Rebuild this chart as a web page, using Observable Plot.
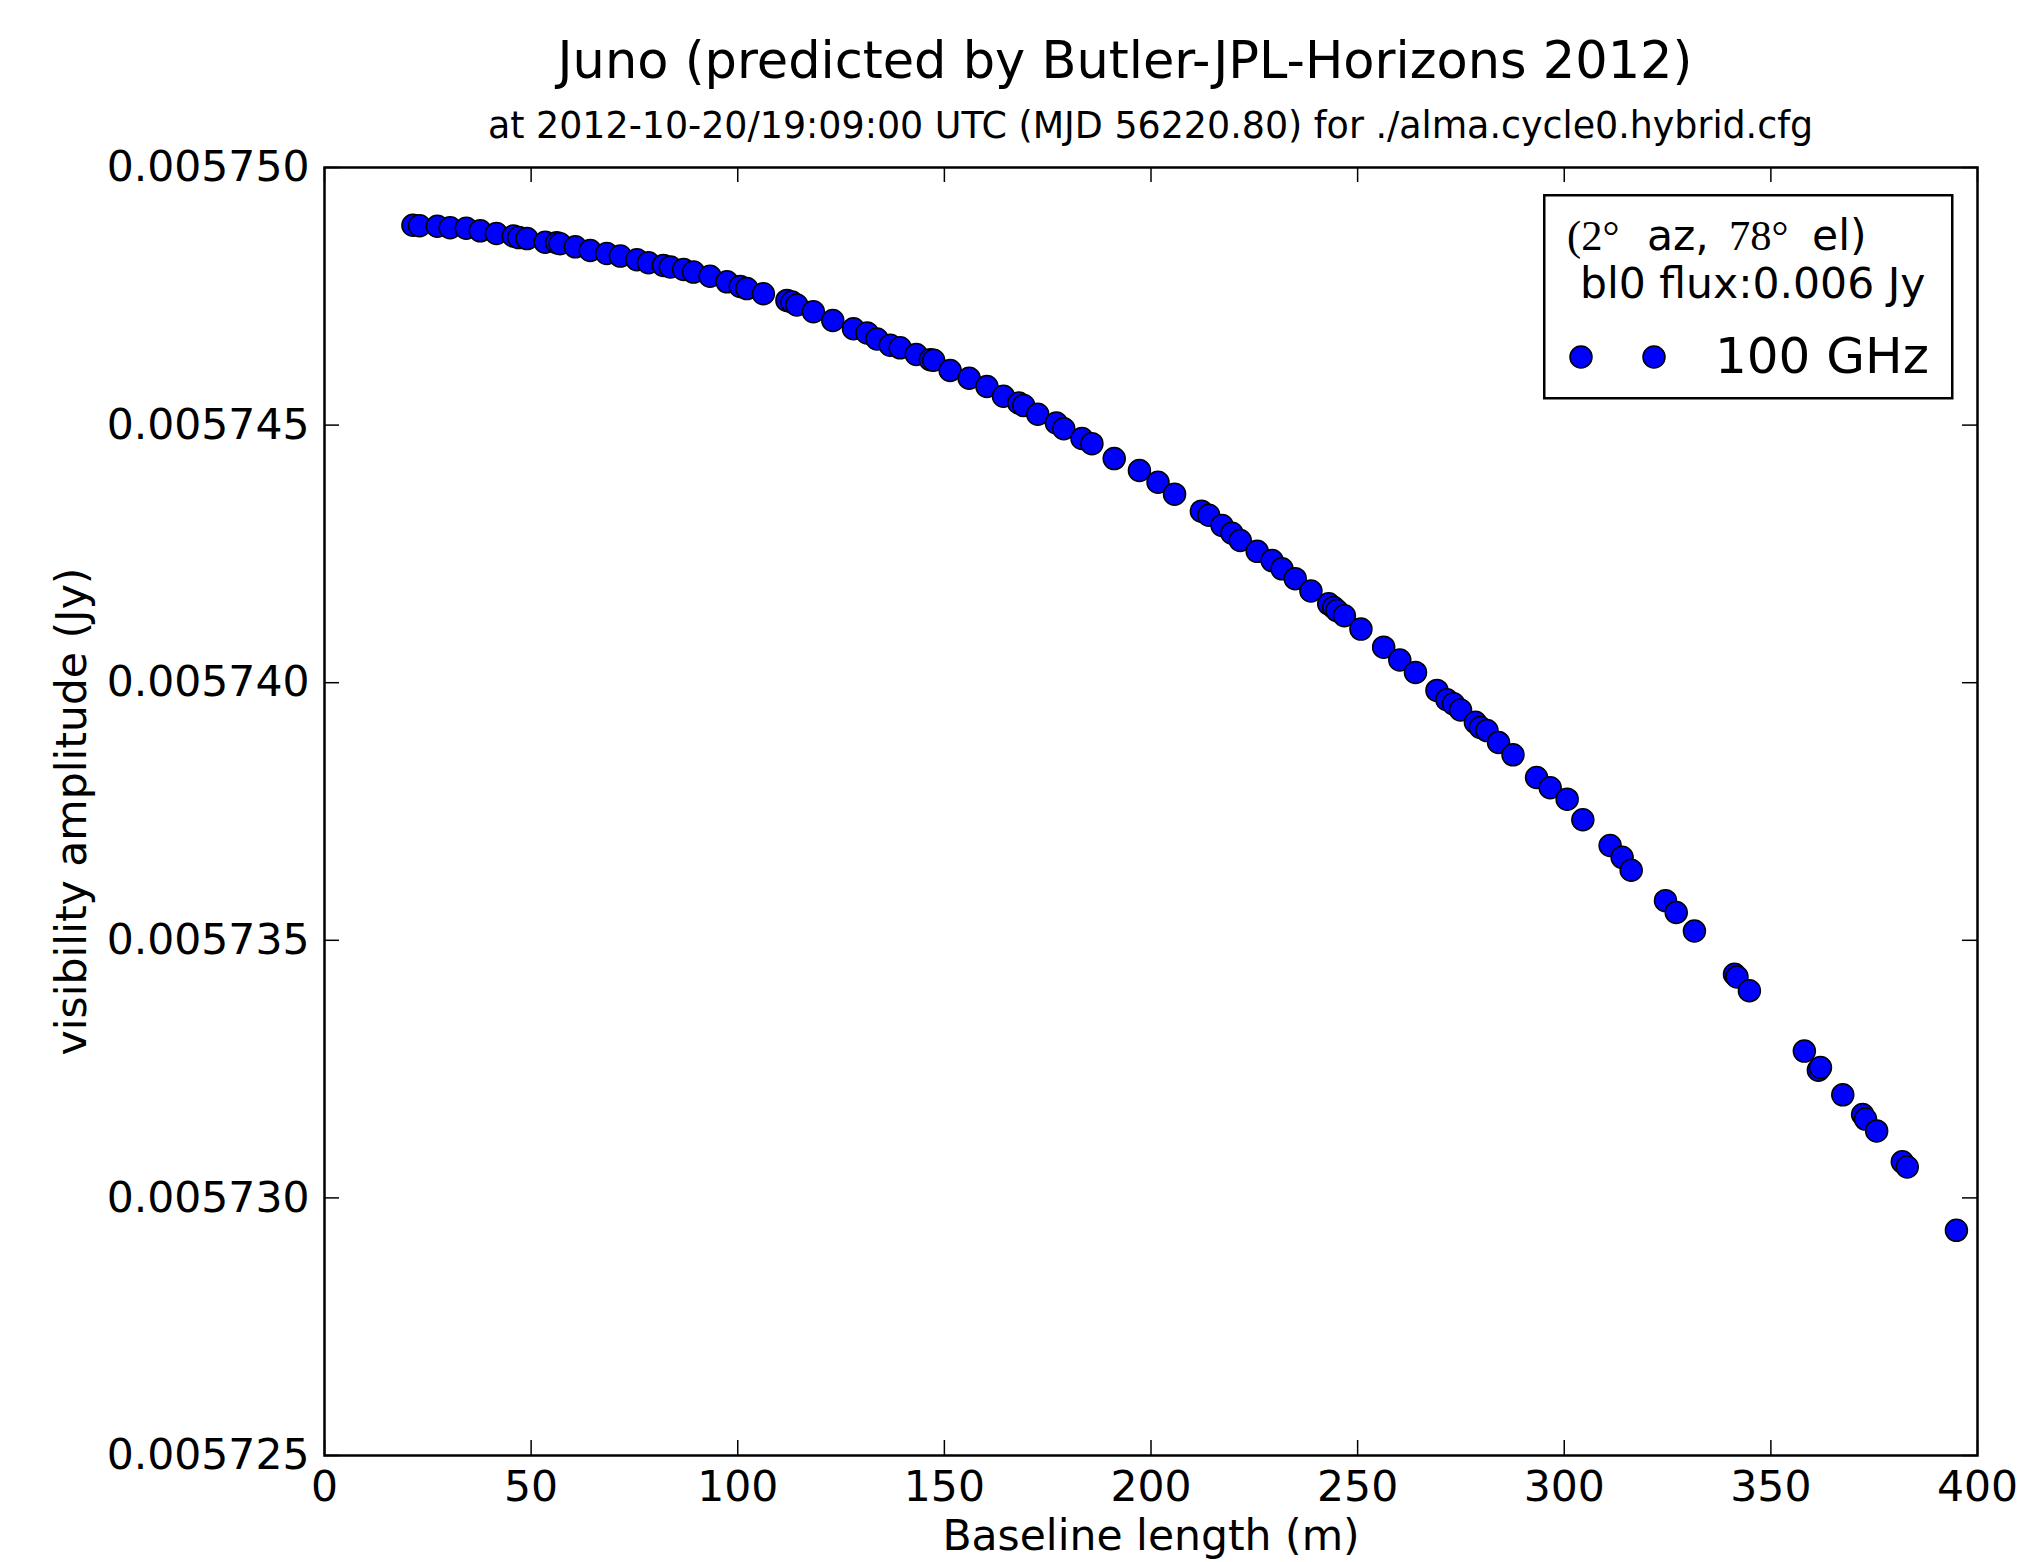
<!DOCTYPE html>
<html>
<head>
<meta charset="utf-8">
<script src="https://cdn.jsdelivr.net/npm/d3@7"></script>
<script src="https://cdn.jsdelivr.net/npm/@observablehq/plot@0.6"></script>
<style>
  body { margin: 0; background: #fff; font-family: "DejaVu Sans", sans-serif; color: #000; }
  #wrap { position: relative; width: 2018px; height: 1562px; overflow: hidden; }
  #header { position: relative; height: 150px; }
  .title { position: absolute; left: 0; width: 2250px; text-align: center; white-space: nowrap;
           font-size: 51px; line-height: 51px; top: 35px; }
  .subtitle { position: absolute; left: 0; width: 2301px; text-align: center; white-space: nowrap;
           font-size: 36.4px; line-height: 36.4px; top: 108px; }
  #legend { position: absolute; left: 1543px; top: 194px; }
</style>
</head>
<body>
<div id="wrap">
  <div id="header">
    <div class="title">Juno (predicted by Butler-JPL-Horizons 2012)</div>
    <div class="subtitle">at 2012-10-20/19:09:00 UTC (MJD 56220.80) for ./alma.cycle0.hybrid.cfg</div>
  </div>
  <div id="chart"></div>
  <svg id="legend" width="412" height="206" xmlns="http://www.w3.org/2000/svg">
    <rect x="1.25" y="1.25" width="408" height="203" fill="#fff" stroke="#000" stroke-width="2.5"></rect>
    <g font-size="42.5" fill="#000">
      <text y="56"><tspan x="24" font-family="Liberation Serif">(2°</tspan><tspan x="104" font-family="DejaVu Sans">az,</tspan><tspan x="186" font-family="Liberation Serif">78°</tspan><tspan x="269" font-family="DejaVu Sans">el)</tspan></text>
      <text x="37" y="104" font-family="DejaVu Sans">bl0 flux:0.006 Jy</text>
      <text x="172" y="179" font-family="DejaVu Sans" font-size="50">100 GHz</text>
    </g>
    <circle cx="38" cy="163" r="11" fill="#0000ff" stroke="#000" stroke-width="1.5"></circle>
    <circle cx="111" cy="163" r="11" fill="#0000ff" stroke="#000" stroke-width="1.5"></circle>
  </svg>
</div>
<script>
// Baseline length (m)
const baseline = [
  21.4, 23.0, 27.3, 30.4, 34.3, 37.7, 41.6, 45.7, 47.0, 49.0, 53.4, 56.2, 57.0, 60.7,
  64.3, 68.3, 71.6, 75.6, 78.4, 82.0, 83.7, 86.9, 89.3, 93.3, 97.4, 100.6, 102.2,
  106.2, 111.9, 113.1, 114.3, 118.3, 123.0, 128.0, 131.3, 133.7, 136.9, 139.3, 143.2, 146.6, 147.4,
  151.4, 156.0, 160.3, 164.3, 168.0, 169.2, 172.6, 177.1, 178.9, 183.3, 185.7,
  191.1, 197.2, 201.7, 205.7, 212.2, 214.0, 217.2, 219.6, 221.6, 225.7, 229.3,
  231.7, 234.9, 238.7, 243.0, 244.2, 245.0, 246.8, 250.8, 256.3, 260.2, 264.0,
  269.2, 271.6, 273.2, 274.9, 278.5, 279.7, 281.3, 284.1, 287.6, 293.3, 296.6, 300.7,
  304.5, 311.1, 314.0, 316.2, 324.5, 327.1, 331.5, 341.2, 341.8, 344.8,
  358.1, 361.5, 362.0, 367.4, 372.2, 372.9, 375.6, 381.8, 383.0, 394.9
];
// Visibility amplitude (Jy)
const amplitude = [
  0.00574888, 0.00574887, 0.00574886, 0.00574883, 0.00574882, 0.00574877, 0.00574872, 0.00574867, 0.00574864, 0.00574862, 0.00574855, 0.00574854, 0.00574852, 0.00574846,
  0.00574839, 0.00574833, 0.00574828, 0.00574821, 0.00574815, 0.00574810, 0.00574807, 0.00574802, 0.00574797, 0.00574789, 0.00574778, 0.00574769, 0.00574765,
  0.00574755, 0.00574742, 0.00574739, 0.00574733, 0.00574720, 0.00574703, 0.00574687, 0.00574679, 0.00574667, 0.00574655, 0.00574650, 0.00574637, 0.00574627, 0.00574626,
  0.00574606, 0.00574591, 0.00574575, 0.00574556, 0.00574543, 0.00574538, 0.00574521, 0.00574504, 0.00574493, 0.00574474, 0.00574464,
  0.00574435, 0.00574412, 0.00574389, 0.00574366, 0.00574333, 0.00574325, 0.00574305, 0.00574290, 0.00574276, 0.00574255, 0.00574237,
  0.00574221, 0.00574202, 0.00574178, 0.00574153, 0.00574146, 0.00574140, 0.00574130, 0.00574104, 0.00574069, 0.00574044, 0.00574020,
  0.00573985, 0.00573967, 0.00573959, 0.00573947, 0.00573923, 0.00573913, 0.00573907, 0.00573884, 0.00573860, 0.00573816, 0.00573796, 0.00573774,
  0.00573734, 0.00573684, 0.00573661, 0.00573636, 0.00573577, 0.00573554, 0.00573518, 0.00573434, 0.00573429, 0.00573402,
  0.00573285, 0.00573248, 0.00573253, 0.00573200, 0.00573162, 0.00573153, 0.00573130, 0.00573070, 0.00573060, 0.00572937
];
const xTicks = [0, 50, 100, 150, 200, 250, 300, 350, 400];
const yTicks = [0.005725, 0.005730, 0.005735, 0.005740, 0.005745, 0.005750];
const xLabel = "Baseline length (m)";
const yLabel = "visibility amplitude (Jy)";

const data = baseline.map((b, i) => ({b, v: amplitude[i]}));

const W = 2018, H = 1412, mt = 17, mb = 107, ml = 324, mr = 41;
const frameH = H - mt - mb;
const frameW = W - ml - mr;
const tickLen = 15;

const chart = Plot.plot({
  width: W, height: H,
  marginTop: mt, marginBottom: mb, marginLeft: ml, marginRight: mr,
  style: {fontFamily: "DejaVu Sans", fontSize: "42.5px", color: "#000", background: "#fff", overflow: "visible"},
  x: {domain: [0, 400]},
  y: {domain: [0.005725, 0.005750]},
  marks: [
    Plot.axisX(xTicks, {tickSize: 0, tickPadding: 15, fontSize: 42.5, tickFormat: d => String(d), label: null}),
    Plot.axisY(yTicks, {tickSize: 0, tickPadding: 15, fontSize: 42.5, tickFormat: d => d.toFixed(6), label: null}),
    Plot.tickX(xTicks, {x: d => d, insetTop: frameH - tickLen, stroke: "#000", strokeWidth: 1.5}),
    Plot.tickX(xTicks, {x: d => d, insetBottom: frameH - tickLen, stroke: "#000", strokeWidth: 1.5}),
    Plot.tickY(yTicks, {y: d => d, insetRight: frameW - tickLen, stroke: "#000", strokeWidth: 1.5}),
    Plot.tickY(yTicks, {y: d => d, insetLeft: frameW - tickLen, stroke: "#000", strokeWidth: 1.5}),
    Plot.dot(data, {x: "b", y: "v", r: 11, fill: "#0000ff", stroke: "#000", strokeWidth: 1.5}),
    Plot.frame({stroke: "#000", strokeWidth: 2.5}),
    Plot.text([xLabel], {frameAnchor: "bottom", textAnchor: "middle", lineAnchor: "bottom", dy: 94, text: d => d, fontSize: 42.5}),
    Plot.text([yLabel], {frameAnchor: "left", textAnchor: "middle", lineAnchor: "bottom", rotate: -90, dx: -239, text: d => d, fontSize: 42.5})
  ]
});
document.getElementById("chart").appendChild(chart);
</script>
</body>
</html>
